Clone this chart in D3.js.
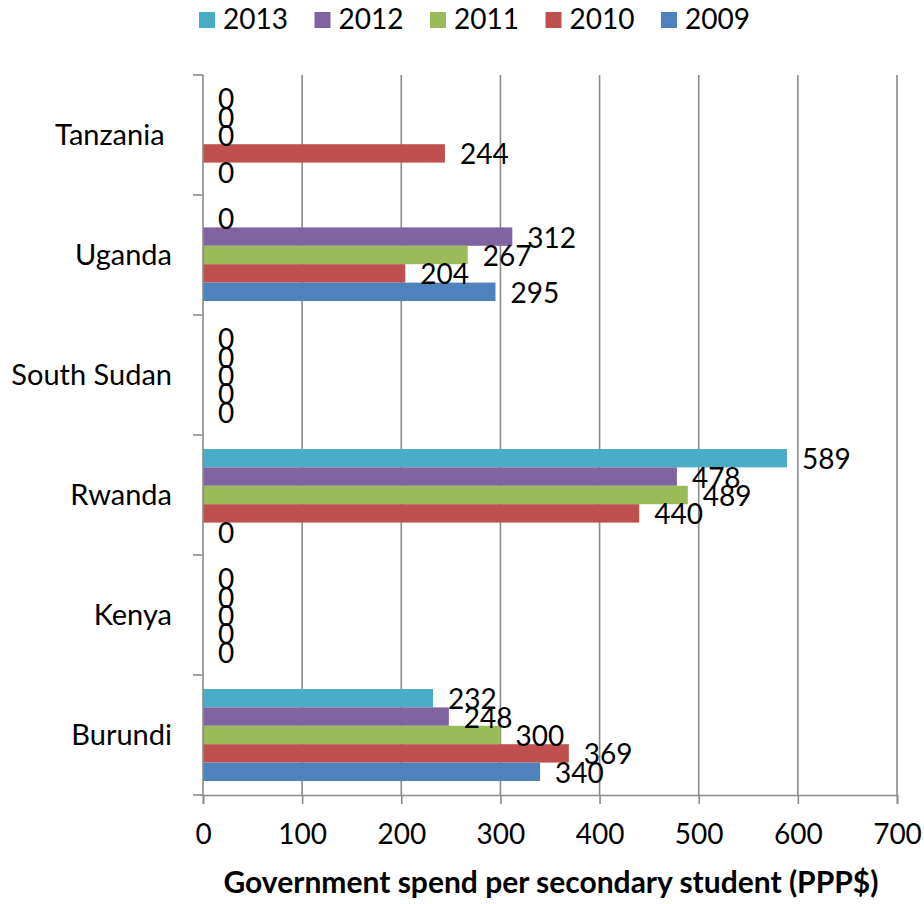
<!DOCTYPE html>
<html>
<head>
<meta charset="utf-8">
<script src="https://cdn.jsdelivr.net/npm/d3@7"></script>
<style>
    body { margin: 0; background: #fff; }
    text { font-family: Lato, "Open Sans", sans-serif; fill: #000; white-space: pre; }
</style>
</head>
<body>
<div id="chart-area"></div>
<script>
// Data
var countries = ["Tanzania ", "Uganda", "South Sudan", "Rwanda", "Kenya", "Burundi"];
var years = ["2013", "2012", "2011", "2010", "2009"];
var v2013 = [0, 0, 0, 589, 0, 232];
var v2012 = [0, 312, 0, 478, 0, 248];
var v2011 = [0, 267, 0, 489, 0, 300];
var v2010 = [244, 204, 0, 440, 0, 369];
var v2009 = [0, 295, 0, 0, 0, 340];
var xTicks = [0, 100, 200, 300, 400, 500, 600, 700];
var colors = ["#4BACC6", "#8064A2", "#9BBB59", "#C0504D", "#4F81BD"];
var xTitle = "Government spend per secondary student (PPP$)";

var seriesValues = [v2013, v2012, v2011, v2010, v2009];

// one row per bar
var bars = [];
countries.forEach((c, i) => {
    years.forEach((y, j) => {
        bars.push({ country: c, year: y, value: seriesValues[j][i] });
    });
});

var svg = d3.select("#chart-area")
    .append("svg")
    .attr("width", 924)
    .attr("height", 904);

// SCALES
var x = d3.scaleLinear()
    .domain([0, 700])
    .range([203, 897]);

var y0 = d3.scaleBand()
    .domain(countries)
    .range([75, 795])
    .paddingInner(0.2333)
    .paddingOuter(0.1167);

var y1 = d3.scaleBand()
    .domain(years)
    .range([0, y0.bandwidth()]);

var color = d3.scaleOrdinal()
    .domain(years)
    .range(colors);

// gridlines
svg.append("g")
    .selectAll("line")
    .data(xTicks.slice(1))
    .enter()
    .append("line")
    .attr("x1", (d) => x(d))
    .attr("x2", (d) => x(d))
    .attr("y1", 75)
    .attr("y2", 795)
    .attr("stroke", "#8a8a8a")
    .attr("stroke-width", 1.6);

// bars
svg.append("g")
    .selectAll("rect")
    .data(bars)
    .enter()
    .append("rect")
    .attr("x", x(0))
    .attr("y", (d) => y0(d.country) + y1(d.year))
    .attr("width", (d) => x(d.value) - x(0))
    .attr("height", y1.bandwidth())
    .attr("fill", (d) => color(d.year));

// value labels
svg.append("g")
    .selectAll("text")
    .data(bars)
    .enter()
    .append("text")
    .attr("x", (d) => x(d.value) + 15)
    .attr("y", (d) => y0(d.country) + y1(d.year) + y1.bandwidth() / 2 + 11)
    .attr("font-size", 28)
    .text((d) => d.value);

// x axis
var xAxis = svg.append("g")
    .attr("transform", "translate(0,795)")
    .call(d3.axisBottom(x).tickValues(xTicks).tickSize(9).tickPadding(20).tickFormat(d3.format("d")));
xAxis.select(".domain").attr("stroke", "#8a8a8a").attr("stroke-width", 1.6);
xAxis.selectAll(".tick line").attr("stroke", "#8a8a8a").attr("stroke-width", 1.6);
xAxis.selectAll(".tick text")
    .attr("font-size", 28)
    .attr("font-family", null)
    .attr("fill", "#000");

// y axis (ticks at band edges)
var yEdges = d3.range(countries.length + 1).map((i) => 75 + i * y0.step());
svg.append("line")
    .attr("x1", x(0)).attr("x2", x(0))
    .attr("y1", 75).attr("y2", 795)
    .attr("stroke", "#8a8a8a")
    .attr("stroke-width", 1.6);
svg.append("g")
    .selectAll("line")
    .data(yEdges)
    .enter()
    .append("line")
    .attr("x1", x(0) - 10)
    .attr("x2", x(0))
    .attr("y1", (d) => d)
    .attr("y2", (d) => d)
    .attr("stroke", "#8a8a8a")
    .attr("stroke-width", 1.6);

svg.append("g")
    .selectAll("text")
    .data(countries)
    .enter()
    .append("text")
    .attr("x", 172)
    .attr("y", (d) => y0(d) + y0.bandwidth() / 2 + 10)
    .attr("text-anchor", "end")
    .attr("font-size", 29)
    .text((d) => d);

// axis title
svg.append("text")
    .attr("x", 551)
    .attr("y", 893)
    .attr("text-anchor", "middle")
    .attr("font-size", 30)
    .attr("font-weight", "bold")
    .text(xTitle);

// legend
var legend = svg.append("g")
    .selectAll("g")
    .data(years)
    .enter()
    .append("g")
    .attr("transform", (d, i) => "translate(" + (199 + i * 115.5) + ",0)");

legend.append("rect")
    .attr("x", 0)
    .attr("y", 12)
    .attr("width", 16)
    .attr("height", 16)
    .attr("fill", (d) => color(d));

legend.append("text")
    .attr("x", 24)
    .attr("y", 29)
    .attr("font-size", 28)
    .text((d) => d);
</script>
</body>
</html>
